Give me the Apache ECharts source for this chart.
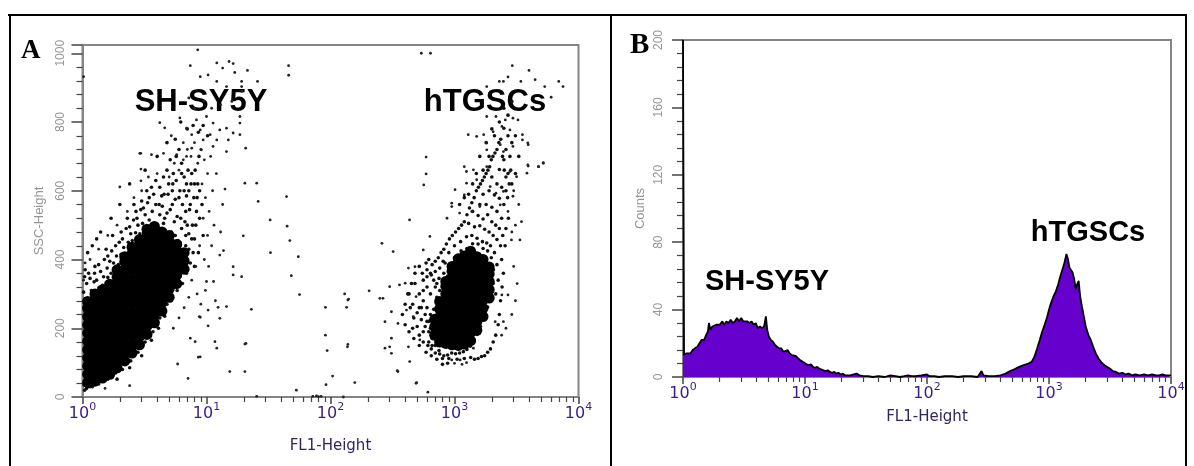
<!DOCTYPE html>
<html><head><meta charset="utf-8">
<script src="https://cdn.jsdelivr.net/npm/echarts@6/dist/echarts.min.js"></script>
<style>html,body{margin:0;padding:0;background:#fff}#c{width:1194px;height:466px}</style>
</head><body><div id="c"></div>
<script>
// ---------- axis tick values ----------
const decadeTicks = [1, 10, 100, 1000, 10000];
const minorTicks = [2,3,4,5,6,7,8,9,20,30,40,50,60,70,80,90,200,300,400,500,600,700,800,900,2000,3000,4000,5000,6000,7000,8000,9000];
const cellLabels = ['SH-SY5Y', 'hTGSCs'];
const panelLetters = ['A', 'B'];

// ---------- Panel A: dot plot (FL1-Height vs SSC-Height) ----------
// dense core of SH-SY5Y: FL1 columns and SSC values in each column
const shCoreCols = [1.1, 1.26, 1.45, 1.66, 1.9, 2.19, 2.51, 2.88, 3.31, 3.8, 4.37, 5.0, 5.75, 6.6];
const shCoreRows = [
  [42,66,90,114,138,162,186,210,234,258,278],
  [46,70,94,118,142,166,190,214,238,262,284,300],
  [55,79,103,127,151,175,199,223,247,271,295,312],
  [66,90,114,138,162,186,210,234,258,282,306,328],
  [85,109,133,157,181,205,229,253,277,301,325,349,370],
  [105,129,153,177,201,225,249,273,297,321,345,369,393,408],
  [128,152,176,200,224,248,272,296,320,344,368,392,416,436],
  [152,176,200,224,248,272,296,320,344,368,392,416,440,458],
  [182,206,230,254,278,302,326,350,374,398,422,446,468,488],
  [216,240,264,288,312,336,360,384,408,432,456,476,496],
  [250,274,298,322,346,370,394,418,442,462,480],
  [290,314,338,362,386,410,432,452,470],
  [330,355,380,402,425,444],
  [372,396,420]
];
// dense core of hTGSCs
const hCoreCols = [692, 759, 851, 955, 1072, 1202, 1349, 1514, 1698, 1905];
const hCoreRows = [
  [180,204,226],
  [160,184,208,232,256,278],
  [156,180,204,228,252,276,300,322,336],
  [152,176,200,224,248,272,296,320,344,366,380],
  [150,174,198,222,246,270,294,318,342,366,388,402],
  [154,178,202,226,250,274,298,322,346,370,394,410],
  [164,188,212,236,260,284,308,332,356,380,404,424],
  [194,218,242,266,290,314,338,362,386,408],
  [234,258,282,306,330,354,378,400],
  [288,312,336,358,378]
];
// medium-density events
const shMid = [[1.03,262],[1.05,285],[1.02,305],[1.08,330],[1.04,350],[1.1,280],[1.2,292],[1.18,310],[1.24,335],[1.12,360],[1.28,300],[1.36,318],[1.3,340],[1.4,365],[1.26,380],[1.45,325],[1.55,332],[1.48,350],[1.6,348],[1.58,375],[1.66,395],[1.5,400],[1.7,360],[1.82,365],[1.78,390],[1.88,410],[1.72,425],[1.95,385],[2.08,390],[2.05,415],[2.15,435],[1.98,450],[2.2,410],[2.38,425],[2.34,450],[2.45,475],[2.25,490],[2.52,455],[2.72,450],[2.68,478],[2.8,500],[2.58,515],[2.9,475],[3.1,478],[3.05,505],[3.2,530],[2.95,545],[3.3,490],[3.55,488],[3.45,515],[3.65,540],[3.35,565],[3.8,500],[4.1,470],[4.0,500],[4.2,530],[3.9,560],[4.35,585],[4.6,440],[4.7,470],[4.5,505],[4.8,535],[4.4,555],[4.9,590],[5.3,410],[5.4,445],[5.2,480],[5.5,510],[5.1,545],[5.6,575],[5.35,620],[6.0,380],[6.2,420],[5.9,455],[6.3,490],[5.8,525],[6.4,560],[6.1,600],[6.6,640],[6.9,360],[7.0,400],[6.8,440],[7.2,475],[6.7,510],[7.3,545],[6.9,585],[7.5,620],[7.1,660],[7.8,420],[8.0,460],[7.7,500],[8.3,540],[7.9,580],[8.5,620],[8.1,660],[8.7,700],[1.08,25],[1.2,30],[1.35,38],[1.45,45],[1.6,52],[1.7,62],[1.85,70],[2.1,80],[2.2,100],[2.45,105],[2.55,125],[2.8,130],[2.9,150],[3.2,160],[3.3,180],[3.7,190],[3.8,215],[4.2,230],[4.35,255],[4.8,270],[4.95,300],[5.5,320],[5.6,350],[6.1,350],[1.9,52],[2.4,85],[3.0,120],[3.6,165],[4.1,200],[4.6,235],[5.2,280],[5.8,310],[6.4,330],
  [2.7,540],[3.0,570],[3.3,600],[3.6,610],[3.9,630],[4.2,610],[4.5,640],[4.8,660],[5.1,690],[5.4,650],[5.7,700],[6.0,720],[6.3,680],[6.6,600],[6.9,620],[7.2,600],[7.6,650],[8.0,620],[8.4,580],[8.8,600],[9.2,560],[7.4,560],[6.8,540],[6.2,520],[5.6,470],[5.0,450],[4.4,470],[3.9,470],[4.6,520],[5.3,560],[6.0,580],[7.0,500],[7.6,460],[8.2,500],[8.8,520],[9.4,470],[8.6,420],[8.0,380],[7.4,390],[6.6,410],[6.1,450],[5.7,400],[6.8,470],[7.2,430],[4.0,700],[4.8,740],[5.6,750],[6.2,800],[7.0,780],[7.8,790],[8.6,770],[9.4,790],[10.2,760],[3.2,660],[2.4,620],[2.0,560],[1.7,520],[1.4,480],[1.2,440],[1.1,420],[1.3,460],[1.55,430],[1.75,470],[2.05,480],[2.3,520],[2.6,560],[1.05,370],[1.15,345],[1.25,360],[1.35,385],[1.6,410],[1.85,440],[2.1,460],[2.4,495],[2.75,520],[3.1,550],[3.45,580],[3.75,590],[4.15,560],[4.55,590],[4.95,620],[5.3,600],[5.7,630],[6.3,650],[3.15,440],[3.5,460],[4.65,410],[5.2,420],[5.6,375],[5.0,330],[4.7,300],[4.4,280],[3.95,250],[3.5,210],[3.1,180],[2.75,150],[2.4,120],[2.1,110],[1.8,90],[1.55,70],[1.3,50],[1.15,30],[1.04,20],[1.03,35]];
const hMid = [[420,300],[460,270],[500,245],[540,225],[580,205],[620,190],[660,170],[700,150],[480,330],[520,300],[560,280],[600,260],[640,240],[680,255],[720,290],[560,340],[600,320],[640,300],[700,320],[750,345],[600,370],[650,355],[700,365],[760,375],[810,395],[520,180],[560,160],[610,150],[650,140],[700,128],[760,125],[820,120],[880,122],[950,128],[1020,126],[1100,128],[1180,132],[1260,138],[1340,148],[1430,165],[1520,182],[1620,205],[1730,228],[1850,262],[1960,295],[2050,330],[2060,370],[1980,405],[1850,425],[1700,432],[1550,445],[1400,446],[1260,432],[1130,425],[1000,405],[880,352],[900,420],[1000,440],[1120,452],[1250,466],[1380,470],[1520,462],[1680,452],[1820,448],[1950,440],[2100,420],[2200,385],[2250,340],[2150,300],[1300,505],[1450,495],[1600,498],[1750,488],[1900,480],[2050,470],[2200,458],[2350,440],[2400,400],[1400,540],[1550,528],[1700,518],[1850,530],[2000,510],[2150,500],[2300,490],[2450,470],[1600,560],[1800,560],[2000,552],[2200,540],[2400,520],[2600,490],[1900,600],[2100,588],[2300,578],[2500,560],[1700,590],[2200,620],[2000,640],[2400,610],[2600,640],[2300,662],[2500,690],[2700,650],[2800,700],[2600,720],[2900,740],[2700,760],[2500,782],
  [380,240],[400,210],[430,190],[460,200],[470,230],[440,260],[400,270],[430,300],[450,330],[480,360],[520,380],[550,360],[590,390],[620,400],[660,385],[700,395],[740,405],[780,420],[820,430],[860,445],[910,460],[960,470],[1020,480],[1080,490],[1140,500],[1200,510],[1260,530],[1320,550],[1380,565],[1440,580],[1500,600],[1560,610],[1620,620],[1680,630],[1740,640],[1800,650],[1860,660],[1920,670],[1980,690],[2040,700],[2120,710],[2200,720],[2280,740],[2360,750],[2440,700],[2520,660],[2600,600],[2680,580],[2760,620],[2840,660],[2720,520],[2560,440],[2480,360],[2420,320],[2350,280],[2300,240],[2250,210],[2150,180],[2050,160],[1950,140],[1850,130],[1750,120],[1650,118],[1550,112],[1450,110],[1350,115],[1200,112],[1050,110],[900,112],[800,112],[750,135],[660,150],[620,160],[560,190],[500,205],[470,170],[520,150],[590,130],[650,120],[720,110],[800,95],[880,98],[600,220],[640,200],[680,180],[720,170],[540,260],[580,240],[620,220],[660,210],[700,200],[740,190],[760,230],[780,280],[800,320],[820,360],[840,390],[760,310],[720,330],[680,340],[640,360],[600,350],[560,310],[520,260],[1100,560],[1200,580],[1300,590],[1500,650],[1700,660],[1900,700],[2100,760],[2300,800],[2000,780],[1800,740],[1600,700],[1400,620],[2500,840],[2700,820],[2900,860],[3100,760],[3300,700],[2900,620],[3100,650]];
// sparse events
const shSparse = [[1.02,932],[8.5,1010],[7.4,964],[12.1,972],[15.2,976],[16.4,970],[13.5,957],[16.9,944],[21.4,950],[45.9,964],[25.8,918],[8.9,932],[10.3,937],[12.1,918],[14.5,903],[19.2,918],[19.2,903],[19.2,889],[6.1,812],[4.2,798],[4.6,783],[8.3,806],[10.0,816],[11.3,797],[14.5,782],[18.6,816],[18.6,797],[18.6,763],[6.9,782],[7.6,763],[8.9,777],[10.7,763],[12.8,777],[16.4,768],[15.0,748],[12.1,748],[9.4,748],[7.6,724],[9.1,719],[11.3,729],[14.5,714],[20.7,724],[2.9,709],[3.6,705],[4.5,709],[5.75,705],[6.9,700],[2.0,611],[20.4,622],[25.4,622],[26.1,569],[44.2,583],[32.6,515],[19.8,469],[47,455],[55,408],[10,336],[11.4,336],[14.5,263],[12.4,261],[23,255],[10.3,253],[12.8,229],[8.9,232],[10.3,207],[20.4,154],[11.7,161],[12.1,142],[8.6,116],[7.1,54],[5.85,96],[15.4,74],[20.4,74],[53,20],[25.4,2],[72,2],[77,3],[80,1],[84,2],[91,261],[91,180],[94,135],[104,61],[2.95,709],[2.96,663],[2.96,629],[14.1,605],[16.4,379],[16.4,355],[19.2,350],[12.8,413],[13.7,426],[8.75,234],[7.4,171],[8.1,161],[20.8,156],[8.9,117],[2.4,33],[1.52,25],[46,936],[44.7,497],[32.8,420],[48.3,353],[56.3,298],[138,153],[137,146],[92,36],[5.0,640],[5.5,680],[6.0,660],[6.5,690],[7.0,720],[7.5,700],[8.0,740],[8.5,680],[9.0,720],[9.6,690],[10.2,650],[10.8,700],[9.2,620],[9.8,580],[10.5,540],[11.2,600],[11.5,500],[10.2,470],[9.4,520],[8.8,440],[9.6,400],[10.4,380],[11,440],[8.2,380],[7.6,340],[8.4,300],[9.0,270],[7.2,290],[6.6,260],[6.0,230],[5.4,200],[9.8,310],[11.8,280],[13,480],[13.5,560],[12,650],[11,840],[9.5,860],[13,850],[16,860],[7.2,870],[8.0,840],[6.5,740],[5.2,760],[4.0,650],[3.4,640],[3.0,600],[2.6,580],[2.3,540],[1.9,500],[1.6,470],[1.35,430],[1.15,400],[1.05,390],[1.02,340]];
const hSparse = [[2925,964],[3990,950],[4470,923],[5340,903],[6930,918],[7500,903],[3430,918],[2300,918],[2480,918],[2700,931],[1820,903],[6020,872],[540,1000],[640,1000],[1820,816],[2160,816],[2570,806],[2960,811],[3250,806],[2410,787],[2800,777],[1290,763],[1510,758],[1720,763],[2050,772],[3530,763],[3530,748],[1820,739],[2340,734],[2960,729],[1820,719],[2480,714],[3900,739],[590,698],[590,649],[565,617],[4770,670],[5200,680],[3900,675],[3840,651],[1200,670],[1420,661],[1820,670],[2800,656],[3170,641],[1010,603],[1250,622],[1510,632],[1940,612],[2160,593],[2480,598],[2960,584],[1200,588],[1600,554],[2340,559],[950,554],[1100,535],[1380,540],[434,515],[260,447],[320,423],[1250,656],[950,564],[870,520],[633,467],[560,428],[480,379],[425,375],[360,326],[300,321],[250,287],[265,287],[400,331],[310,248],[275,219],[350,214],[410,253],[490,292],[465,234],[525,166],[425,146],[310,171],[275,142],[310,127],[435,103],[345,77],[490,40],[610,14],[950,108],[1110,108],[1420,142],[2130,219],[2480,219],[2700,297],[2410,297],[3470,510],[3370,457],[2880,457],[5200,682],[4750,670],[3930,672],[3930,734],[205,309],[135,261],[138,282],[300,146],[350,74],[157,42],[495,42],[127,0],[130,300],[140,285],[1000,98],[1150,95],[1250,100],[3000,380],[3200,330],[3100,280],[2900,240],[2600,200],[2400,180],[2700,540],[3000,600],[3300,560],[3100,500],[2900,480]];

// ---------- Panel B: histogram (FL1-Height vs Counts) ----------
const histFL1 = [1,1.01,1.02,1.06,1.1,1.15,1.2,1.25,1.31,1.36,1.42,1.49,1.55,1.6,1.63,1.68,1.74,1.8,1.87,1.94,2.0,2.1,2.18,2.27,2.36,2.46,2.56,2.66,2.77,2.88,3.0,3.12,3.24,3.37,3.5,3.65,3.8,3.95,4.1,4.27,4.44,4.62,4.78,4.9,5.05,5.25,5.46,5.68,5.9,6.15,6.4,6.65,6.9,7.2,7.5,7.8,8.1,8.4,8.8,9.15,9.5,9.9,10.3,10.7,11.2,11.6,12.1,12.6,13.1,13.6,14.2,14.8,15.4,16,16.7,17.4,18.1,18.8,19.6,20.4,21.2,22,23.5,25,26.5,28,30,33,36,40,45,50,55,60,65,70,75,80,90,100,105,115,125,140,160,180,200,230,260,280,290,320,360,400,440,480,520,570,620,680,720,760,800,840,880,920,960,1000,1040,1090,1140,1190,1240,1290,1340,1390,1430,1470,1510,1560,1610,1660,1700,1750,1800,1860,1930,2000,2100,2200,2300,2420,2550,2700,2850,3000,3150,3350,3550,3750,4000,4250,4500,4800,5100,5500,6000,6500,7000,7500,8000,8500,9000,9500,10000];
const histCounts = [200,107,13,14,15,14,16,17,18,19,22,22,25,27,32,28,30,29,31,32,31,33,31,33,32,34,32,33,35,33,35,33,34,33,32,33,31,32,29,30,29,30,36,28,24,22,21,19,18,17,17,15,16,16,14,13,12,12.5,11,10,9,8.5,7.5,7,7.5,6,5.5,6,5,4.5,4,3.5,4,3,2.5,3,2,2.5,1.5,2,1,1.5,1,1.5,2,1,0.5,0.5,0,0.5,0,1,0.5,0,0.5,1,0.5,0.5,1,1.5,0.5,0.5,0,0.5,0.5,0,0.5,0.5,0,3.5,1,0.5,0.5,1,2,3.5,4.5,6,7,8,9,12,17,22,27,31,35,40,44,48,51,55,60,64,68,73,70,65,66,62,58,52,55,57,48,42,36,30,25,22,18,14,11,8.5,7,6,5,3.5,3,2,2.5,1.5,2,1,1.5,1,1.5,1,1.5,1,1,1.5,1,1,1];

// ---------- build ----------
function colsToPoints(cols, rows) {
  const out = [];
  cols.forEach((c, i) => rows[i].forEach(v => out.push([c, v])));
  return out;
}
const histData = histFL1.map((x, i) => [x, histCounts[i]]);

const labelColor = '#3c1d86';
const grayText = '#959595';
const frameGray = '#858585';
const tickColor = '#444';

function decadeFmt(v) { return '{b|10}{s|' + Math.round(Math.log10(v)) + '}'; }
const decadeRich = {
  b: { fontSize: 16, fontFamily: 'DejaVu Sans', color: labelColor, lineHeight: 24, verticalAlign: 'middle' },
  s: { fontSize: 11, fontFamily: 'DejaVu Sans', color: labelColor, lineHeight: 8, verticalAlign: 'top' }
};

function mainX(gi, nameGap) {
  return {
    type: 'log', logBase: 10, gridIndex: gi, min: 1, max: 10000, position: 'bottom',
    axisLine: { show: true, lineStyle: { color: frameGray, width: 2 } },
    axisTick: { show: true, customValues: decadeTicks, length: 7, lineStyle: { color: tickColor, width: 1.5 } },
    axisLabel: { customValues: decadeTicks, formatter: decadeFmt, rich: decadeRich, margin: 5 },
    splitLine: { show: false }, minorTick: { show: false },
    name: 'FL1-Height', nameLocation: 'middle', nameGap: nameGap,
    nameTextStyle: { fontFamily: 'DejaVu Sans', fontSize: 15, color: '#33245e', verticalAlign: 'top' }
  };
}
function minorX(gi) {
  return {
    type: 'log', logBase: 10, gridIndex: gi, min: 1, max: 10000, position: 'bottom',
    axisLine: { show: false },
    axisTick: { show: true, customValues: minorTicks, length: 5, lineStyle: { color: tickColor, width: 1.2 } },
    axisLabel: { show: false }, splitLine: { show: false }
  };
}
const dotStyle = (c) => ({ color: c, opacity: 1, borderWidth: 0 });

const option = {
  animation: false,
  backgroundColor: '#fff',
  grid: [
    { left: 82.5, top: 45, right: 615.5, bottom: 69, show: true, borderColor: frameGray, borderWidth: 2, backgroundColor: 'transparent' },
    { left: 683, top: 40, right: 23, bottom: 89, show: true, borderColor: frameGray, borderWidth: 2, backgroundColor: 'transparent' }
  ],
  xAxis: [mainX(0, 42), minorX(0), mainX(1, 33), minorX(1)],
  yAxis: [
    {
      type: 'value', gridIndex: 0, min: 0, max: 1024, interval: 200,
      axisLine: { show: true, lineStyle: { color: frameGray, width: 2 } },
      axisTick: { show: true, length: 11, lineStyle: { color: tickColor, width: 1.5 } },
      minorTick: { show: true, splitNumber: 5, length: 6, lineStyle: { color: tickColor, width: 1.2 } },
      axisLabel: { rotate: 90, color: grayText, fontSize: 12, fontFamily: 'Liberation Sans', margin: 16, showMaxLabel: false, formatter: v => String(v) },
      splitLine: { show: false },
      name: 'SSC-Height', nameLocation: 'middle', nameGap: 37, nameRotate: 90,
      nameTextStyle: { color: grayText, fontSize: 13, fontFamily: 'Liberation Sans' }
    },
    {
      type: 'value', gridIndex: 1, min: 0, max: 200, interval: 40,
      axisLine: { show: true, lineStyle: { color: frameGray, width: 2 } },
      axisTick: { show: true, length: 11, lineStyle: { color: tickColor, width: 1.5 } },
      minorTick: { show: true, splitNumber: 5, length: 6, lineStyle: { color: tickColor, width: 1.2 } },
      axisLabel: { rotate: 90, color: grayText, fontSize: 12, fontFamily: 'Liberation Sans', margin: 18, formatter: v => String(v) },
      splitLine: { show: false },
      name: 'Counts', nameLocation: 'middle', nameGap: 36, nameRotate: 90,
      nameTextStyle: { color: grayText, fontSize: 13, fontFamily: 'Liberation Sans' }
    }
  ],
  series: [
    { type: 'scatter', xAxisIndex: 0, yAxisIndex: 0, data: shMid.concat(hMid), symbolSize: 3.6, itemStyle: dotStyle('#111'), silent: true },
    { type: 'scatter', xAxisIndex: 0, yAxisIndex: 0, data: shSparse.concat(hSparse), symbolSize: 2.8, itemStyle: dotStyle('#222'), silent: true },
    { type: 'scatter', xAxisIndex: 0, yAxisIndex: 0, data: colsToPoints(shCoreCols, shCoreRows), symbolSize: 11, itemStyle: dotStyle('#000'), silent: true },
    { type: 'scatter', xAxisIndex: 0, yAxisIndex: 0, data: colsToPoints(hCoreCols, hCoreRows), symbolSize: 11, itemStyle: dotStyle('#000'), silent: true },
    {
      type: 'line', xAxisIndex: 2, yAxisIndex: 1, data: histData, symbol: 'none', smooth: false,
      lineStyle: { color: '#000', width: 1.8 }, areaStyle: { color: '#6600cc', opacity: 1 }, silent: true
    }
  ],
  graphic: [
    { type: 'line', shape: { x1: 8, y1: 15, x2: 1187, y2: 15 }, style: { stroke: '#000', lineWidth: 2 } },
    { type: 'line', shape: { x1: 10, y1: 14, x2: 10, y2: 466 }, style: { stroke: '#000', lineWidth: 2 } },
    { type: 'line', shape: { x1: 611, y1: 14, x2: 611, y2: 466 }, style: { stroke: '#000', lineWidth: 2 } },
    { type: 'line', shape: { x1: 1186, y1: 14, x2: 1186, y2: 466 }, style: { stroke: '#000', lineWidth: 2 } },
    { type: 'text', style: { text: panelLetters[0], x: 21, y: 51, font: 'bold 27px "Liberation Serif"', fill: '#000', verticalAlign: 'middle' } },
    { type: 'text', style: { text: panelLetters[1], x: 630, y: 46, font: 'bold 29px "Liberation Serif"', fill: '#000', verticalAlign: 'middle' } },
    { type: 'text', style: { text: cellLabels[0], x: 201, y: 102, font: 'bold 31px "Liberation Sans"', fill: '#000', align: 'center', verticalAlign: 'middle' } },
    { type: 'text', style: { text: cellLabels[1], x: 485, y: 102, font: 'bold 31px "Liberation Sans"', fill: '#000', align: 'center', verticalAlign: 'middle' } },
    { type: 'text', style: { text: cellLabels[0], x: 767, y: 282, font: 'bold 29px "Liberation Sans"', fill: '#000', align: 'center', verticalAlign: 'middle' } },
    { type: 'text', style: { text: cellLabels[1], x: 1088, y: 233, font: 'bold 29px "Liberation Sans"', fill: '#000', align: 'center', verticalAlign: 'middle' } }
  ]
};
const chart = echarts.init(document.getElementById('c'));
chart.setOption(option);
</script>
</body></html>
